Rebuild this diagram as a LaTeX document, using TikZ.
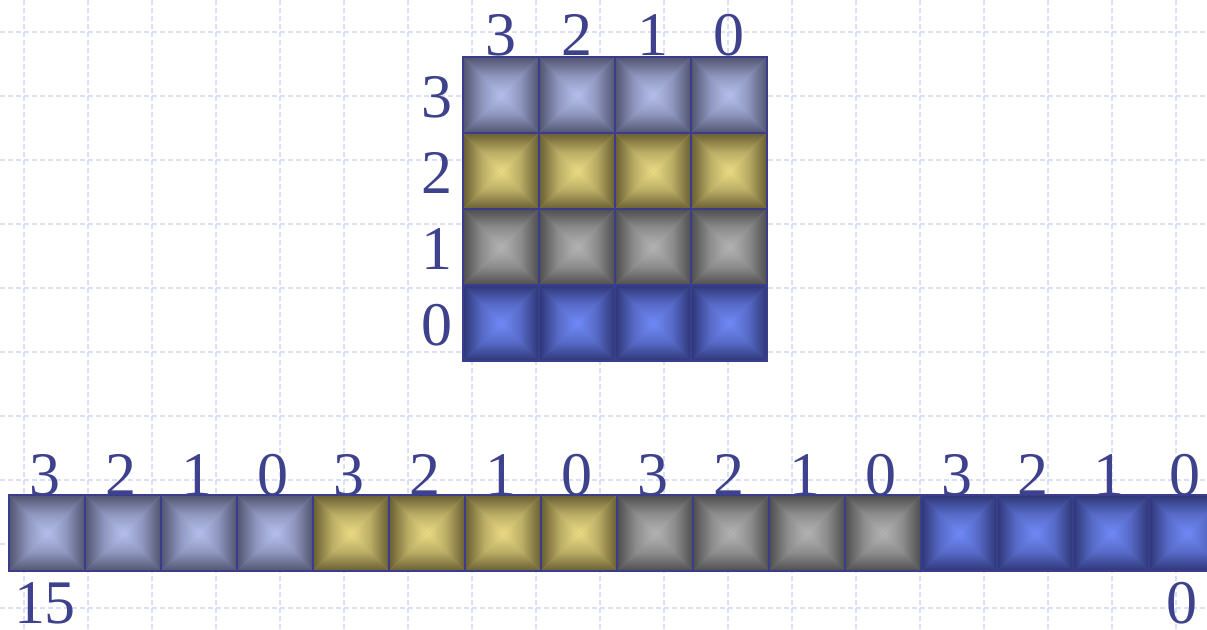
\documentclass[tikz,border=0pt]{standalone}
\usepackage{fontspec}
\setmainfont{Liberation Serif}
\definecolor{numblue}{RGB}{62,65,140}
\definecolor{edgeblue}{RGB}{60,60,140}
\definecolor{gridblue}{RGB}{218,223,248}
\definecolor{lavin}{RGB}{182,192,238}
\definecolor{lavout}{RGB}{80,84,112}
\definecolor{goldin}{RGB}{236,220,132}
\definecolor{goldout}{RGB}{104,94,50}
\definecolor{greyin}{RGB}{180,180,180}
\definecolor{greyout}{RGB}{78,78,78}
\definecolor{bluein}{RGB}{112,138,248}
\definecolor{blueout}{RGB}{46,54,118}
% one bevelled brick: top-left x, top-left y (counted downwards), colour prefix
\newcommand\brick[3]{%
  \pgfmathsetmacro\xl{#1}\pgfmathsetmacro\xr{#1+76}\pgfmathsetmacro\xm{#1+38}%
  \pgfmathsetmacro\yt{-(#2)}\pgfmathsetmacro\yb{-(#2)-76}\pgfmathsetmacro\ym{-(#2)-38}%
  \fill[#3in!60!#3out] (\xl,\yt) rectangle (\xr,\yb);
  \shade[top color=#3out, bottom color=#3in, middle color=#3in!62!#3out] (\xl,\yt) -- (\xr,\yt) -- (\xm,\ym) -- cycle;
  \shade[top color=#3in, bottom color=#3out, middle color=#3in!62!#3out] (\xl,\yb) -- (\xr,\yb) -- (\xm,\ym) -- cycle;
  \shade[left color=#3out, right color=#3in, middle color=#3in!62!#3out] (\xl,\yt) -- (\xl,\yb) -- (\xm,\ym) -- cycle;
  \shade[left color=#3in, right color=#3out, middle color=#3in!62!#3out] (\xr,\yt) -- (\xr,\yb) -- (\xm,\ym) -- cycle;
  \draw[edgeblue, line width=1.1pt] (\xl,\yt) rectangle (\xr,\yb);
}
\tikzset{
  num/.style={text=numblue, font=\fontsize{31}{36}\selectfont, inner sep=0pt},
  gridline/.style={gridblue, line width=0.6pt, dash pattern=on 2.5pt off 1.5pt}
}
\begin{document}
\begin{tikzpicture}[x=0.5pt, y=0.5pt]
  \useasboundingbox (0,-630) rectangle (1207,0);
  % background grid
  \foreach \k in {0,...,18}
    \draw[gridline] ({24+64*\k},0) -- ({24+64*\k},-630);
  \foreach \k in {0,...,9}
    \draw[gridline] (0,{-32-64*\k}) -- (1207,{-32-64*\k});
  % 4x4 block
  \foreach \r/\col in {3/lav, 2/gold, 1/grey, 0/blue}
    {
      \foreach \c in {0,...,3}
        {\brick{463+76*\c}{57+76*(3-\r)}{\col}}
      \node[num] (row\r) at (437,{-97-76*(3-\r)}) {\r};
    }
  \foreach \c in {0,...,3}
    \node[num] (col\c) at ({501+76*(3-\c)},-35) {\c};
  % the row of 16
  \foreach \g/\col in {0/lav, 1/gold, 2/grey, 3/blue}
    \foreach \c in {0,...,3}
      {
        \brick{9+304*\g+76*\c}{495}{\col}
        \pgfmathtruncatemacro\bit{3-\c}
        \node[num] (bit\g\c) at ({45+304*\g+76*\c},-475) {\bit};
      }
  \node[num] (high) at (45,-603) {15};
  \node[num] (low) at (1182,-603) {0};
\end{tikzpicture}
\end{document}
